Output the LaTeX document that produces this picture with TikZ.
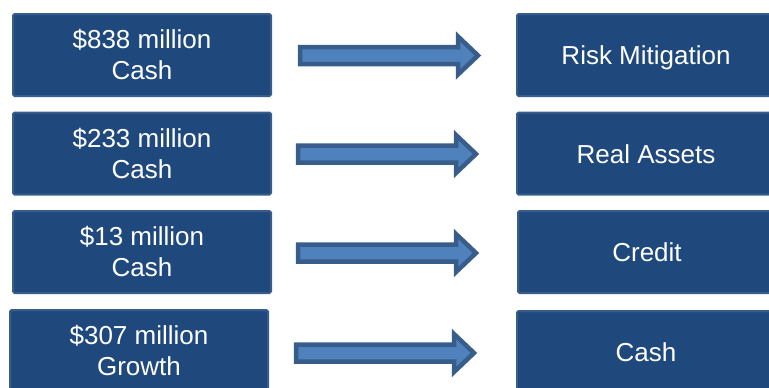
\documentclass[tikz,border=0pt]{standalone}
\usepackage{fontspec}
\setmainfont{Liberation Sans}
\usetikzlibrary{calc}
\definecolor{boxfill}{RGB}{31,73,125}
\definecolor{boxline}{RGB}{56,93,138}
\definecolor{arrowfill}{RGB}{79,129,189}
\tikzset{
  valbox/.style={draw=boxline, line width=2pt, fill=boxfill, rounded corners=1.5pt,
    minimum width=258pt, minimum height=82pt, inner sep=0pt, text=white,
    align=center, font=\fontsize{26}{31}\selectfont},
  onebox/.style={valbox, text depth=0pt, text height=19pt},
  blockarrow/.style={draw=boxline, fill=arrowfill, line width=4.5pt, line join=miter}
}
\newcommand\blockarrow[2]{%
  \path[blockarrow] let \p1=(#1), \p2=(#2) in
    (\x1,\y1+8.5pt) -- (\x2-20pt,\y1+8.5pt) -- (\x2-20pt,\y1+19pt) --
    (\x2,\y1) -- (\x2-20pt,\y1-19pt) -- (\x2-20pt,\y1-8.5pt) --
    (\x1,\y1-8.5pt) -- cycle;}
\begin{document}
\begin{tikzpicture}[x=1pt,y=-1pt]
\useasboundingbox (0,0) rectangle (769,388);
\clip (0,0) rectangle (769,388);
\node[valbox] (l1) at (142,55) {\$838 million\\Cash};
\node[valbox] (l2) at (142,153.5) {\$233 million\\Cash};
\node[valbox] (l3) at (142,252) {\$13 million\\Cash};
\node[valbox] (l4) at (139,351) {\$307 million\\Growth};
\node[onebox] (r1) at (646,55) {Risk Mitigation};
\node[onebox] (r2) at (646,153.5) {Real Assets};
\node[onebox] (r3) at (647,252) {Credit};
\node[onebox] (r4) at (646,352) {Cash};
\coordinate (a1s) at ($(l1.east)+(28,0.5)$);
\coordinate (a1e) at ($(r1.west)+(-38,0.5)$);
\coordinate (a2s) at ($(l2.east)+(26,0.5)$);
\coordinate (a2e) at ($(r2.west)+(-40,0.5)$);
\coordinate (a3s) at ($(l3.east)+(26,1)$);
\coordinate (a3e) at ($(r3.west)+(-41,1)$);
\coordinate (a4s) at ($(l4.east)+(27,2)$);
\coordinate (a4e) at ($(r4.west)+(-42,1)$);
\blockarrow{a1s}{a1e}
\blockarrow{a2s}{a2e}
\blockarrow{a3s}{a3e}
\blockarrow{a4s}{a4e}
\end{tikzpicture}
\end{document}
